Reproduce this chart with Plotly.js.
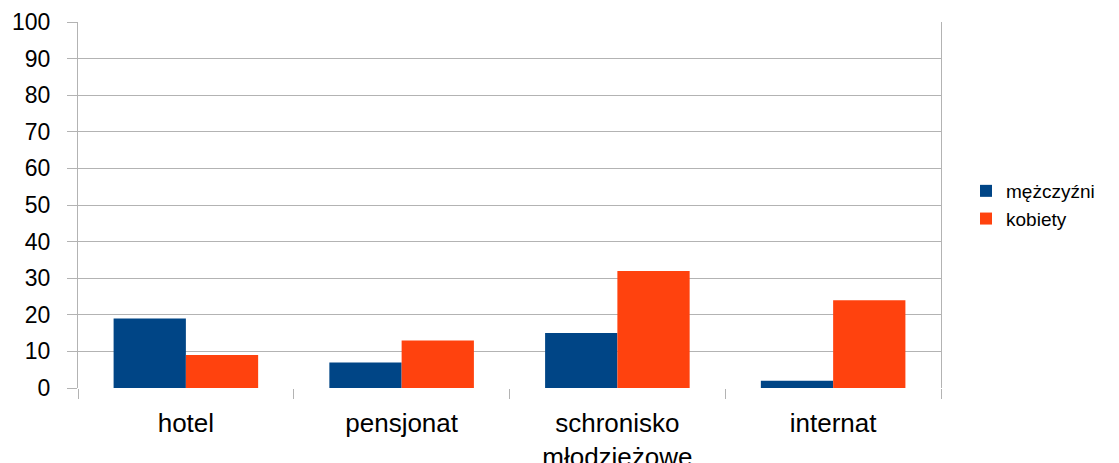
<!DOCTYPE html>
<html>
<head>
<meta charset="utf-8">
<script src="https://cdn.plot.ly/plotly-3.0.1.min.js"></script>
<style>
  html, body { margin: 0; padding: 0; background: #fff; }
  #chart { width: 1119px; height: 463px; }
</style>
</head>
<body>
<div id="chart"></div>
<script>
// Accommodation preference by gender (%)
const categories = ['hotel', 'pensjonat', 'schronisko<br>młodzieżowe', 'internat'];
const menLabel = 'mężczyźni';
const womenLabel = 'kobiety';
const menValues = [19, 7, 15, 2];
const womenValues = [9, 13, 32, 24];
const yTicks = [0, 10, 20, 30, 40, 50, 60, 70, 80, 90, 100];

const FONT = 'Liberation Sans, Arial, sans-serif';

const traces = [
  {
    type: 'bar', name: menLabel, x: categories, y: menValues,
    marker: { color: '#004586', line: { width: 0 } },
    hoverinfo: 'none'
  },
  {
    type: 'bar', name: womenLabel, x: categories, y: womenValues,
    marker: { color: '#ff420e', line: { width: 0 } },
    hoverinfo: 'none'
  }
];

const layout = {
  width: 1119, height: 463,
  margin: { l: 78, r: 178, t: 22, b: 75 },
  paper_bgcolor: '#ffffff', plot_bgcolor: '#ffffff',
  font: { family: FONT, color: '#000000', size: 24 },
  barmode: 'group', bargap: 0.33, bargroupgap: 0,
  showlegend: true,
  legend: {
    x: 1.029, xanchor: 'left', y: 0.5, yanchor: 'middle',
    font: { family: FONT, size: 19, color: '#000' },
    itemwidth: 30, tracegroupgap: 0, bgcolor: 'rgba(0,0,0,0)'
  },
  xaxis: {
    type: 'category',
    tickson: 'boundaries', ticks: 'outside', ticklen: 10, tickcolor: '#b3b3b3', tickwidth: 1,
    showgrid: false, showline: false, zeroline: false,
    tickfont: { family: FONT, size: 26, color: '#000' },
    ticklabelstandoff: 17
  },
  yaxis: {
    range: [0, 100], tickvals: yTicks, ticktext: yTicks.map(String),
    ticks: 'outside', ticklen: 10, tickcolor: '#b3b3b3', tickwidth: 1,
    showgrid: true, gridcolor: '#b3b3b3', gridwidth: 1,
    showline: true, linecolor: '#b3b3b3', linewidth: 1, mirror: true,
    zeroline: false,
    tickfont: { family: FONT, size: 23, color: '#000' },
    ticklabelstandoff: 12
  }
};

Plotly.newPlot('chart', traces, layout, { staticPlot: true, displayModeBar: false });
</script>
</body>
</html>
